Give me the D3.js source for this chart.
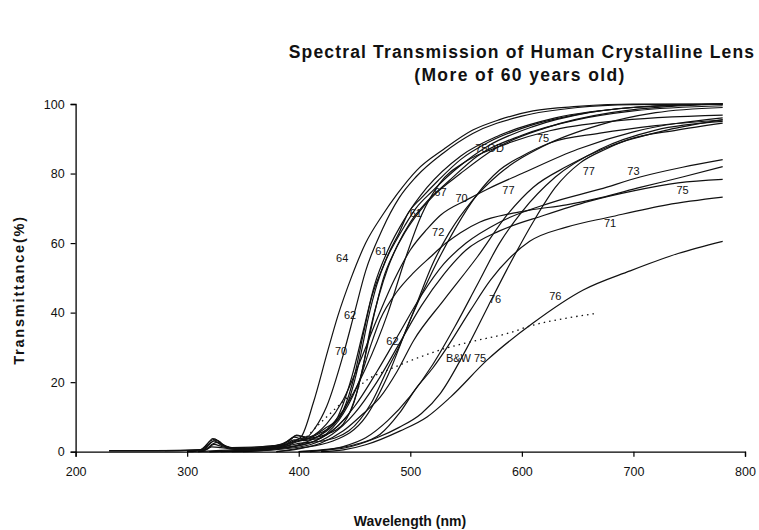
<!DOCTYPE html>
<html>
<head>
<meta charset="utf-8">
<script src="https://cdn.jsdelivr.net/npm/d3@7"></script>
<style>
  html, body { margin: 0; padding: 0; background: #fff; }
  svg { display: block; }
  text { font-family: "Liberation Sans", Arial, sans-serif; fill: #111; }
</style>
</head>
<body>
<svg id="chart" width="759" height="530"></svg>
<script>
// Transmittance (%) versus wavelength (nm), one [wavelength, value] list per lens.
const lens64 = [[230,0.3],[270,0.3],[310,0.4],[318,2.2],[323,3.8],[329,2.9],[335,1.2],[350,0.8],[370,1.2],[385,1.8],[395,3],[402,4.2],[413,14],[426,29],[435,39],[447,50],[460,60],[475,68],[488,74],[506,81],[530,87],[556,92.5],[580,95.5],[610,98],[650,99.3],[700,100],[780,100]];
const lens61a = [[300,0.2],[315,0.6],[321,2.6],[326,3.3],[332,2.1],[340,1.2],[360,1.3],[380,1.8],[392,3.4],[398,4.8],[406,4],[415,7],[425,13],[440,28],[450,40],[460,52],[475,64],[490,73],[505,79],[530,86],[556,91.5],[600,96.5],[650,99],[700,99.8],[780,100]];
const lens61b = [[280,0.3],[312,0.5],[319,1.9],[324,3.1],[331,1.8],[345,1],[365,1.4],[385,2],[396,4.2],[404,3.5],[420,5.5],[432,8],[440,12],[450,22],[458,34],[465,44],[474,52],[482,58],[490,63],[498,68.6],[510,73],[525,78],[545,84],[570,89],[600,93],[650,97],[700,99],[780,100]];
const lens62a = [[230,0.2],[275,0.2],[313,0.6],[320,2.9],[325,3.6],[330,2.4],[338,1.2],[355,0.9],[375,1.5],[390,2.8],[398,4.6],[408,4.2],[425,7],[437,10],[445,15],[455,27],[462,38],[470,48],[478,55],[486,60],[495,65],[505,70],[520,75],[540,81],[570,88],[610,93.5],[660,97.5],[720,99.5],[780,100]];
const lens70a = [[300,0],[315,0.4],[322,1.4],[330,1.2],[345,0.6],[365,0.9],[385,1.6],[395,2.8],[402,3.8],[415,3.6],[430,6],[440,9],[447,12],[456,22],[464,35],[472,45],[480,53],[488,59],[500,66],[515,72],[535,78],[560,85],[600,91],[650,95.5],[700,98],[780,99.5]];
const lens67 = [[310,0],[318,0.7],[324,2.1],[331,1.5],[342,0.8],[362,1],[382,1.5],[394,2.6],[402,3.4],[420,4.5],[432,6],[440,8],[452,17],[460,28],[468,40],[476,50],[485,57],[495,63],[508,69],[522,74],[545,80],[575,87],[620,93],[680,97.5],[780,100]];
const lens69 = [[300,0.1],[316,0.5],[322,2.1],[327,2.7],[334,1.5],[348,0.7],[368,1],[386,1.7],[396,3.4],[405,3.2],[418,4.5],[435,10],[448,22],[458,35],[468,48],[480,58],[495,67],[515,76],[545,85],[580,91],[630,96],[700,99],[780,100]];
const lens62b = [[320,0],[350,0.4],[375,0.9],[392,1.8],[400,2.4],[420,3],[445,6],[465,14],[480,24],[491,31],[505,42],[520,54],[535,63],[555,72],[580,80],[620,88],[670,94],[720,97.5],[780,99]];
const lens70b = [[310,0],[330,0.4],[360,0.8],[385,1.3],[398,2.8],[410,4],[425,8],[440,15],[455,26],[470,38],[485,49],[500,58],[515,64],[527,68],[551,72.5],[569,75.5],[600,80],[650,87],[700,92],[780,96]];
const lens75od = [[350,0],[380,0.8],[400,2],[420,5],[440,12],[460,24],[480,40],[495,55],[510,68],[526,77],[550,83.5],[580,87.8],[625,92.3],[680,95],[780,96.8]];
const lens75a = [[380,0],[400,1],[430,3],[460,10],[480,22],[500,38],[520,52],[540,64],[560,74],[580,81],[600,85],[625,88.8],[670,91.6],[720,93.8],[780,95.4]];
const lens72 = [[320,0],[350,0.4],[380,1],[400,1.8],[420,4],[440,11],[455,21],[465,31],[473,38],[488,46],[503,51.5],[518,56],[532,60],[545,63],[562,66],[592,68.6],[607,69.5],[640,71],[670,73],[706,76],[744,79],[780,82]];
const lens73 = [[330,0],[360,0.4],[390,1.2],[410,2.5],[430,6],[450,13],[470,23],[490,34],[510,45],[530,54],[550,60],[580,66],[625,71.5],[670,75.5],[706,79],[744,81.8],[780,84]];
const lens75b = [[340,0],[380,0.6],[410,2],[430,5],[450,11],[470,20],[490,31],[510,42],[530,51],[550,58],[580,63.5],[620,68],[660,72],[700,75],[740,77.3],[780,78.3]];
const lens71 = [[400,0],[420,0.5],[450,2],[473,5],[490,11],[506,18.6],[520,24],[533,30],[554,40.7],[572,49.4],[590,56],[607,60.5],[640,64.6],[679,67.5],[730,71],[780,73.2]];
const lens77a = [[380,0],[400,0.8],[420,2.5],[440,6],[458,11],[473,15.7],[488,23],[503,32],[530,43.6],[560,56],[588,68.6],[610,76],[640,82],[680,88],[730,92.5],[780,95.5]];
const lens76a = [[400,0],[440,1],[470,4],[490,7],[510,11],[527,16.8],[551,30],[570,42],[586,52],[610,66],[630,76],[652,83],[675,87],[694,89.6],[739,92.5],[780,94.5]];
const lens77b = [[410,0],[440,1.5],[460,4],[480,9],[500,16],[520,25],[540,36],[560,48],[580,60],[600,69],[630,79],[670,87],[720,92.5],[780,95]];
const lens76b = [[420,0],[440,0.5],[460,2],[491,6],[515,10],[536,15.7],[569,26.4],[610,37],[655,46.5],[697,52],[740,57],[780,60.5]];
// Black-and-white reference measurement (dotted).
const lensBW75 = [[400,2],[425,10],[445,16],[461,20.6],[480,23.5],[502,26.4],[527,29.3],[554,31.6],[587,34],[610,36.4],[640,38.4],[667,39.8]];

const solidSeries = [lens64, lens61a, lens61b, lens62a, lens70a, lens67, lens69, lens62b, lens70b,
  lens75od, lens75a, lens72, lens73, lens75b, lens71, lens77a, lens76a, lens77b, lens76b];

// Age labels written next to the curves: [text, wavelength, transmittance].
const curveLabels = [
  ["64", 439, 55.7], ["61", 474, 57.8], ["62", 446, 39.3], ["70", 438, 28.9],
  ["61", 505, 68.6], ["67", 527, 74.7], ["70", 546, 72.9], ["72", 525, 63.3],
  ["75OD", 571, 87.3], ["75", 619, 90.2], ["77", 588, 75.3], ["77", 660, 80.7],
  ["73", 700, 80.7], ["75", 744, 75.3], ["71", 679, 65.7], ["62", 484, 31.8],
  ["76", 576, 43.9], ["76", 630, 44.8], ["B&W 75", 550, 26.9]
];

const xTicks = [200, 300, 400, 500, 600, 700, 800];
const yTicks = [0, 20, 40, 60, 80, 100];
const titleLines = ["Spectral Transmission of Human Crystalline Lens", "(More of 60 years old)"];

const svg = d3.select("#chart");
svg.append("rect").attr("width", 759).attr("height", 530).attr("fill", "#fff");

const x = d3.scaleLinear().domain([200, 800]).range([75.6, 745]);
const y = d3.scaleLinear().domain([0, 100]).range([451.7, 104]);

const line = d3.line()
  .x(d => x(d[0]))
  .y(d => y(d[1]))
  .curve(d3.curveMonotoneX);

const plot = svg.append("g");
plot.selectAll("path.curve")
  .data(solidSeries)
  .join("path")
  .attr("class", "curve")
  .attr("d", line)
  .attr("fill", "none")
  .attr("stroke", "#111")
  .attr("stroke-width", 1.2);

plot.append("path")
  .datum(lensBW75)
  .attr("d", line)
  .attr("fill", "none")
  .attr("stroke", "#111")
  .attr("stroke-width", 1.3)
  .attr("stroke-dasharray", "1.5,4");

// Axes
const xAxis = d3.axisBottom(x).tickValues(xTicks).tickSize(5).tickPadding(10).tickFormat(d3.format("d"));
const yAxis = d3.axisLeft(y).tickValues(yTicks).tickSize(5).tickPadding(6).tickFormat(d3.format("d"));

const gx = svg.append("g").attr("transform", `translate(0,${y(0)})`).call(xAxis);
const gy = svg.append("g").attr("transform", `translate(${x(200)},0)`).call(yAxis);
[gx, gy].forEach(g => {
  g.select(".domain").attr("stroke", "#000").attr("stroke-width", 1.3);
  g.selectAll(".tick line").attr("stroke", "#000").attr("stroke-width", 1.2);
  g.selectAll(".tick text")
    .attr("font-family", "'Liberation Sans', Arial, sans-serif")
    .attr("font-size", 12.5)
    .attr("fill", "#222");
});

// Curve labels
svg.append("g").selectAll("text")
  .data(curveLabels)
  .join("text")
  .attr("x", d => x(d[1]))
  .attr("y", d => y(d[2]))
  .attr("text-anchor", "middle")
  .attr("dominant-baseline", "central")
  .attr("font-size", 11)
  .attr("fill", "#111")
  .text(d => d[0]);

// Titles
svg.append("text")
  .attr("x", 522).attr("y", 58)
  .attr("text-anchor", "middle")
  .attr("font-size", 17.5).attr("font-weight", "bold")
  .attr("letter-spacing", 1.15)
  .text(titleLines[0]);
svg.append("text")
  .attr("x", 520).attr("y", 81)
  .attr("text-anchor", "middle")
  .attr("font-size", 17.5).attr("font-weight", "bold")
  .attr("letter-spacing", 1.4)
  .text(titleLines[1]);

svg.append("text")
  .attr("x", 410).attr("y", 526)
  .attr("text-anchor", "middle")
  .attr("font-size", 14).attr("font-weight", "bold")
  .text("Wavelength (nm)");

svg.append("text")
  .attr("transform", "translate(24,290) rotate(-90)")
  .attr("text-anchor", "middle")
  .attr("font-size", 14.5).attr("font-weight", "bold")
  .attr("letter-spacing", 1.8)
  .text("Transmittance(%)");
</script>
</body>
</html>
